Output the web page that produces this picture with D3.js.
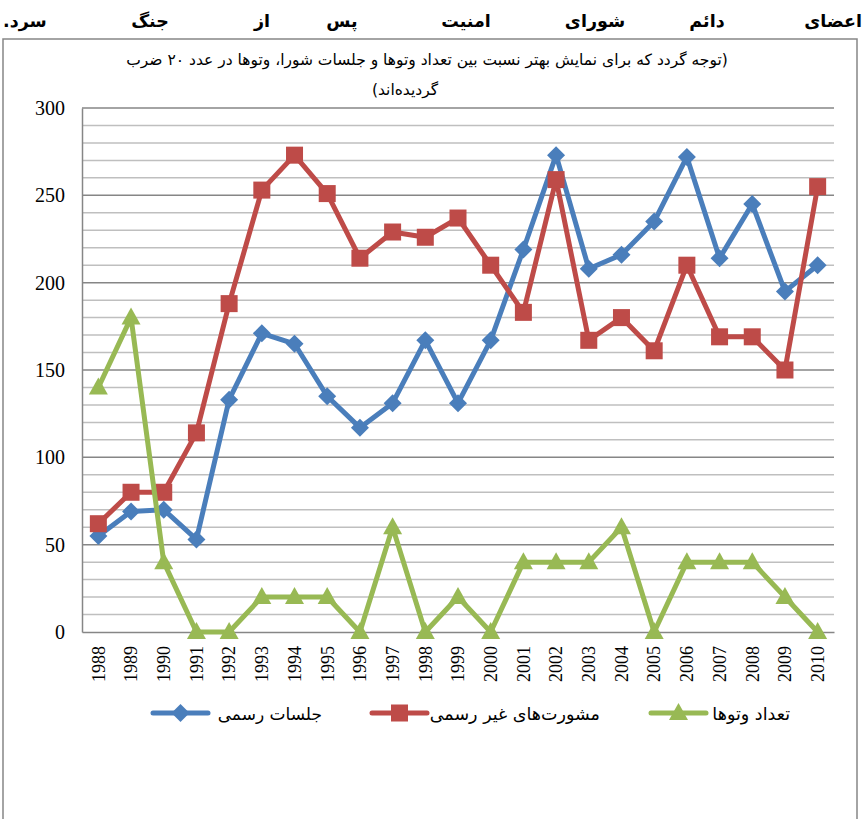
<!DOCTYPE html>
<html>
<head>
<meta charset="utf-8">
<script src="https://cdnjs.cloudflare.com/ajax/libs/d3/7.8.5/d3.min.js"></script>
<style>
  body { margin: 0; background: #fff; }
  svg { display: block; }
  .num { font-family: "Liberation Serif", "Times New Roman", Times, serif; fill: #000; }
</style>
</head>
<body>
<div id="chart"></div>
<script>
// data
var years = ["1988", "1989", "1990", "1991", "1992", "1993", "1994", "1995", "1996", "1997", "1998",
  "1999", "2000", "2001", "2002", "2003", "2004", "2005", "2006", "2007", "2008", "2009", "2010"];
var meetings = [55, 69, 70, 53, 133, 171, 165, 135, 117, 131, 167, 131, 167, 219, 273, 208, 216, 235, 272, 214, 245, 195, 210];
var consultations = [62, 80, 80, 114, 188, 253, 273, 251, 214, 229, 226, 237, 210, 183, 259, 167, 180, 161, 210, 169, 169, 150, 255];
var vetoes = [140, 180, 40, 0, 0, 20, 20, 20, 0, 60, 0, 20, 0, 40, 40, 40, 60, 0, 40, 40, 40, 20, 0];
var seriesNames = ["جلسات رسمی", "مشورت‌های غیر رسمی", "تعداد وتوها"];
var yTicks = [0, 50, 100, 150, 200, 250, 300];
var titleWords = ["اعضای", "دائم", "شورای", "امنیت", "پس", "از", "جنگ", "سرد."];
var noteLines = ["(توجه گردد که برای نمایش بهتر نسبت بین تعداد وتوها و جلسات شورا، وتوها در عدد ۲۰ ضرب", "گردیده‌اند)"];

var W = 865, H = 819;
var margin = { top: 108, right: 31, bottom: 187, left: 82 };
var width = W - margin.left - margin.right;
var height = H - margin.top - margin.bottom;

var svg = d3.select("#chart").append("svg")
  .attr("width", W)
  .attr("height", H);

var arabicFont = "'DejaVu Sans', 'Noto Sans', sans-serif";

// title words spread across the top (right-to-left)
var titleX = [862, 707, 595, 466, 342, 262, 150, 3];
var titleAnchor = ["start", "middle", "middle", "middle", "middle", "middle", "middle", "end"];
svg.selectAll(".title-word")
  .data(titleWords)
  .enter().append("text")
  .attr("class", "title-word")
  .attr("x", function (d, i) { return titleX[i]; })
  .attr("y", 27)
  .attr("direction", "rtl")
  .attr("text-anchor", function (d, i) { return titleAnchor[i]; })
  .style("font-family", arabicFont)
  .style("font-weight", "bold")
  .style("font-size", "17.5px")
  .text(function (d) { return d; });

// chart frame
svg.append("path")
  .attr("d", "M3," + H + " L3,39 L857,39 L857," + H)
  .attr("fill", "none")
  .attr("stroke", "#868686")
  .attr("stroke-width", 1.5);

svg.append("text")
  .attr("x", 427).attr("y", 65)
  .attr("text-anchor", "middle")
  .attr("direction", "rtl")
  .style("font-family", arabicFont)
  .style("font-size", "15.5px")
  .text(noteLines[0]);
svg.append("text")
  .attr("x", 405).attr("y", 95)
  .attr("text-anchor", "middle")
  .attr("direction", "rtl")
  .style("font-family", arabicFont)
  .style("font-size", "15.5px")
  .text(noteLines[1]);

var g = svg.append("g")
  .attr("transform", "translate(" + margin.left + "," + margin.top + ")");

var x = d3.scaleBand().domain(years).range([0, width]);
var y = d3.scaleLinear().domain([0, 300]).range([height, 0]);
var cx = function (i) { return x(years[i]) + x.bandwidth() / 2; };

// minor grid
g.selectAll(".minor")
  .data(d3.range(10, 300, 10).filter(function (v) { return v % 50 != 0; }))
  .enter().append("line")
  .attr("x1", 0).attr("x2", width)
  .attr("y1", function (d) { return y(d); })
  .attr("y2", function (d) { return y(d); })
  .attr("stroke", "#bfbfbf")
  .attr("stroke-width", 1.5);

// major grid
g.selectAll(".major")
  .data(yTicks.slice(1))
  .enter().append("line")
  .attr("x1", 0).attr("x2", width)
  .attr("y1", function (d) { return y(d); })
  .attr("y2", function (d) { return y(d); })
  .attr("stroke", "#868686")
  .attr("stroke-width", 1.5);

// y axis
var yAxis = g.append("g")
  .call(d3.axisLeft(y).tickValues(yTicks).tickSize(0).tickPadding(17));
yAxis.attr("font-family", null).attr("font-size", null);
yAxis.select(".domain").attr("stroke", "#868686").attr("stroke-width", 1.5);
yAxis.selectAll("text")
  .attr("class", "num")
  .attr("fill", null)
  .style("font-size", "20px");

// x axis
var xAxis = g.append("g")
  .attr("transform", "translate(0," + height + ")")
  .call(d3.axisBottom(x).tickSize(0).tickPadding(0));
xAxis.attr("font-family", null).attr("font-size", null);
xAxis.select(".domain").attr("stroke", "#868686").attr("stroke-width", 1.5);
xAxis.selectAll("text")
  .attr("class", "num")
  .attr("fill", null)
  .style("font-size", "18px")
  .attr("text-anchor", "end")
  .attr("transform", "rotate(-90)")
  .attr("x", -14)
  .attr("y", 0)
  .attr("dy", "0.35em");

var colors = ["#4a7ebb", "#be4b48", "#98b954"];
var allSeries = [meetings, consultations, vetoes];

var line = d3.line()
  .x(function (d, i) { return cx(i); })
  .y(function (d) { return y(d); });

function marker(sel, k) {
  if (k == 0) {
    sel.append("path").attr("d", "M0,-9 L9,0 L0,9 L-9,0 Z");
  } else if (k == 1) {
    sel.append("rect").attr("x", -8.5).attr("y", -8.5).attr("width", 17).attr("height", 17);
  } else {
    sel.append("path").attr("d", "M0,-10 L9.5,7 L-9.5,7 Z");
  }
}

allSeries.forEach(function (data, k) {
  g.append("path")
    .datum(data)
    .attr("fill", "none")
    .attr("stroke", colors[k])
    .attr("stroke-width", 5)
    .attr("stroke-linejoin", "round")
    .attr("d", line);
  data.forEach(function (v, i) {
    var m = g.append("g")
      .attr("transform", "translate(" + cx(i) + "," + y(v) + ")")
      .attr("fill", colors[k]);
    marker(m, k);
  });
});

// legend
var legendPos = [
  { lx: 153, tx: 322, fs: 17 },
  { lx: 372, tx: 600, fs: 17.5 },
  { lx: 651, tx: 790, fs: 17.5 }
];
var legend = svg.append("g");
seriesNames.forEach(function (name, k) {
  var p = legendPos[k];
  legend.append("line")
    .attr("x1", p.lx).attr("x2", p.lx + 55)
    .attr("y1", 713).attr("y2", 713)
    .attr("stroke", colors[k])
    .attr("stroke-width", 5)
    .attr("stroke-linecap", "round");
  var m = legend.append("g")
    .attr("transform", "translate(" + (p.lx + 27.5) + ",713)")
    .attr("fill", colors[k]);
  marker(m, k);
  legend.append("text")
    .attr("x", p.tx)
    .attr("y", 720)
    .attr("text-anchor", "end")
    .attr("direction", "ltr")
    .style("font-family", arabicFont)
    .style("font-size", p.fs + "px")
    .text(name);
});
</script>
</body>
</html>
